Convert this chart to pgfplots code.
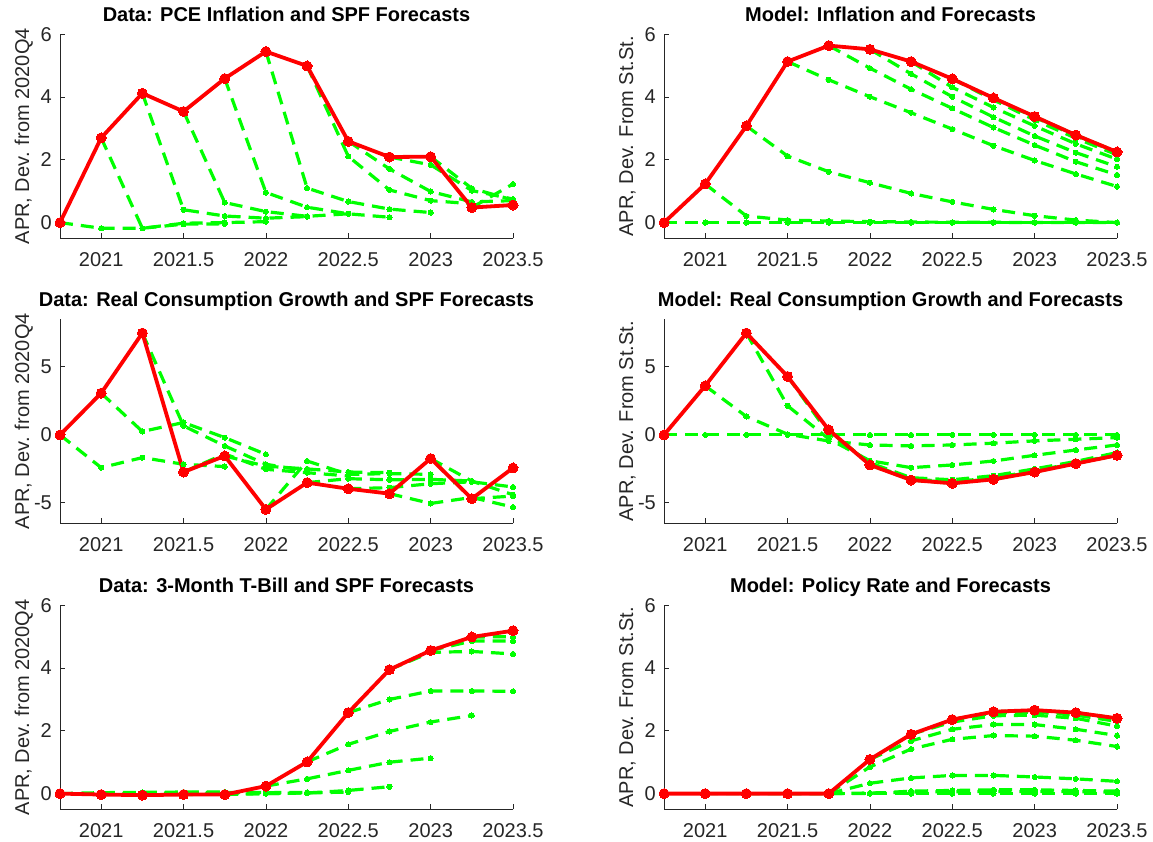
\documentclass[border=0pt]{standalone}
\usepackage{pgfplots}
\pgfplotsset{compat=1.18}
\usepackage{fontspec}
\setmainfont{Liberation Sans}
\definecolor{axgray}{gray}{0.15}
\definecolor{lgreen}{RGB}{0,255,0}
\pgfplotsset{
 panel/.style={scale only axis, width=453pt, height=204pt, xmin=2020.75, xmax=2023.5,
  axis x line*=bottom, axis y line*=left, clip=false,
  xtick={2021,2021.5,2022,2022.5,2023,2023.5},
  xticklabels={2021,2021.5,2022,2022.5,2023,2023.5},
  tick align=inside, major tick length=5.5pt,
  every tick/.style={axgray, line width=0.8pt},
  axis line style={axgray, line width=0.8pt},
  tick label style={font=\fontsize{20}{24}\selectfont, text=axgray},
  xticklabel style={anchor=base, yshift=-28.4pt, inner sep=0pt},
  yticklabel style={anchor=east, inner sep=0pt, xshift=-8pt},
  title style={font=\bfseries\fontsize{20}{24}\selectfont, at={(axis description cs:0.5,1)}, anchor=base, yshift=7pt, inner sep=0pt},
  ylabel style={font=\fontsize{20}{24}\selectfont, text=axgray, at={(axis description cs:-0.0684,0.5)}, anchor=base, inner sep=0pt},
 },
 pA/.style={panel, ymin=-0.5, ymax=6, ytick={0,2,4,6}, yticklabels={0,2,4,6}},
 pB/.style={panel, ymin=-6.5, ymax=8.5, ytick={-5,0,5}, yticklabels={-5,0,5}},
 gr/.style={lgreen, line width=3.2pt, dash pattern=on 13pt off 8pt, mark=*, mark size=2.6pt, mark options={solid, fill=lgreen, draw=lgreen, line width=0pt}},
 rd/.style={red, line width=3.8pt, solid, mark=*, mark size=5pt, mark options={solid, fill=red, draw=red, line width=0pt}},
}
\begin{document}
\begin{tikzpicture}
\path[use as bounding box] (0,0) rectangle (1153pt,842pt);
% ---------- Panel 1 ----------
\begin{axis}[pA, at={(60pt,603.7pt)}, anchor=south west,
  title={Data: PCE Inflation and SPF Forecasts}, ylabel={APR, Dev. from 2020Q4}]
\addplot[gr] coordinates {(2020.75,0)(2021,-0.18)(2021.25,-0.18)(2021.5,-0.05)(2021.75,-0.04)};
\addplot[gr] coordinates {(2021,2.70)(2021.25,-0.18)(2021.5,-0.02)(2021.75,0.0)(2022,0.03)};
\addplot[gr] coordinates {(2021.25,4.12)(2021.5,0.41)(2021.75,0.21)(2022,0.14)(2022.25,0.19)};
\addplot[gr] coordinates {(2021.5,3.54)(2021.75,0.64)(2022,0.35)(2022.25,0.20)(2022.5,0.28)};
\addplot[gr] coordinates {(2021.75,4.59)(2022,0.96)(2022.25,0.49)(2022.5,0.28)(2022.75,0.17)};
\addplot[gr] coordinates {(2022,5.45)(2022.25,1.10)(2022.5,0.67)(2022.75,0.43)(2023,0.32)};
\addplot[gr] coordinates {(2022.25,4.99)(2022.5,2.11)(2022.75,1.04)(2023,0.70)(2023.25,0.60)};
\addplot[gr] coordinates {(2022.5,2.59)(2022.75,1.71)(2023,0.99)(2023.25,0.66)(2023.5,0.70)};
\addplot[gr] coordinates {(2022.75,2.09)(2023,1.84)(2023.25,1.02)(2023.5,0.75)};
\addplot[gr] coordinates {(2023,2.10)(2023.25,1.09)(2023.5,0.72)};
\addplot[gr] coordinates {(2023.25,0.48)(2023.5,1.23)};
\addplot[rd] coordinates {(2020.75,0)(2021,2.70)(2021.25,4.12)(2021.5,3.54)(2021.75,4.59)(2022,5.45)(2022.25,4.99)(2022.5,2.59)(2022.75,2.09)(2023,2.10)(2023.25,0.48)(2023.5,0.56)};
\end{axis}
% ---------- Panel 2 ----------
\begin{axis}[pA, at={(664pt,603.7pt)}, anchor=south west,
  title={Model: Inflation and Forecasts}, ylabel={APR, Dev. From St.St.}]
\addplot[gr] coordinates {(2020.75,0)(2021,0)(2021.25,0)(2021.5,0)(2021.75,0)(2022,0)(2022.25,0)(2022.5,0)(2022.75,0)(2023,0)(2023.25,0)(2023.5,0)};
\addplot[gr] coordinates {(2021,1.23)(2021.25,0.21)(2021.5,0.08)(2021.75,0.05)(2022,0.03)(2022.25,0.02)(2022.5,0.01)(2022.75,0.01)(2023,0)(2023.25,0)(2023.5,0)};
\addplot[gr] coordinates {(2021.25,3.08)(2021.5,2.12)(2021.75,1.62)(2022,1.27)(2022.25,0.93)(2022.5,0.66)(2022.75,0.42)(2023,0.22)(2023.25,0.08)(2023.5,0.0)};
\addplot[gr] coordinates {(2021.5,5.13)(2021.75,4.55)(2022,4.01)(2022.25,3.50)(2022.5,2.98)(2022.75,2.45)(2023,1.98)(2023.25,1.55)(2023.5,1.15)};
\addplot[gr] coordinates {(2021.75,5.64)(2022,4.92)(2022.25,4.25)(2022.5,3.64)(2022.75,3.03)(2023,2.47)(2023.25,1.94)(2023.5,1.52)};
\addplot[gr] coordinates {(2022,5.52)(2022.25,4.74)(2022.5,4.01)(2022.75,3.36)(2023,2.76)(2023.25,2.23)(2023.5,1.78)};
\addplot[gr] coordinates {(2022.25,5.13)(2022.5,4.31)(2022.75,3.67)(2023,3.08)(2023.25,2.51)(2023.5,2.02)};
\addplot[gr] coordinates {(2022.5,4.58)(2022.75,3.91)(2023,3.27)(2023.25,2.69)(2023.5,2.16)};
\addplot[gr] coordinates {(2022.75,3.97)(2023,3.36)(2023.25,2.76)(2023.5,2.23)};
\addplot[gr] coordinates {(2023,3.38)(2023.25,2.79)(2023.5,2.24)};
\addplot[gr] coordinates {(2023.25,2.79)(2023.5,2.25)};
\addplot[rd] coordinates {(2020.75,0)(2021,1.23)(2021.25,3.08)(2021.5,5.13)(2021.75,5.64)(2022,5.52)(2022.25,5.13)(2022.5,4.58)(2022.75,3.97)(2023,3.38)(2023.25,2.79)(2023.5,2.25)};
\end{axis}
% ---------- Panel 3 ----------
\begin{axis}[pB, at={(60pt,318.7pt)}, anchor=south west,
  title={Data: Real Consumption Growth and SPF Forecasts}, ylabel={APR, Dev. from 2020Q4}]
\addplot[gr] coordinates {(2020.75,0)(2021,-2.41)(2021.25,-1.67)(2021.5,-2.16)(2021.75,-2.33)};
\addplot[gr] coordinates {(2021,3.07)(2021.25,0.25)(2021.5,0.91)(2021.75,-0.20)(2022,-1.43)};
\addplot[gr] coordinates {(2021.25,7.49)(2021.5,0.66)(2021.75,-0.81)(2022,-2.16)(2022.25,-2.65)};
\addplot[gr] coordinates {(2021.5,-2.73)(2021.75,-1.40)(2022,-2.53)(2022.25,-2.78)(2022.5,-3.02)};
\addplot[gr] coordinates {(2021.75,-1.55)(2022,-2.30)(2022.25,-2.50)(2022.5,-2.73)(2022.75,-2.78)};
\addplot[gr] coordinates {(2022,-5.48)(2022.25,-1.92)(2022.5,-2.90)(2022.75,-2.85)(2023,-2.90)};
\addplot[gr] coordinates {(2022.25,-3.51)(2022.5,-3.22)(2022.75,-3.30)(2023,-3.27)(2023.25,-3.39)};
\addplot[gr] coordinates {(2022.5,-3.96)(2022.75,-3.88)(2023,-3.59)(2023.25,-3.45)(2023.5,-3.83)};
\addplot[gr] coordinates {(2022.75,-4.32)(2023,-5.04)(2023.25,-4.60)(2023.5,-5.31)};
\addplot[gr] coordinates {(2023,-1.74)(2023.25,-3.40)(2023.5,-4.40)};
\addplot[gr] coordinates {(2023.25,-4.69)(2023.5,-4.50)};
\addplot[rd] coordinates {(2020.75,0)(2021,3.07)(2021.25,7.49)(2021.5,-2.73)(2021.75,-1.55)(2022,-5.48)(2022.25,-3.51)(2022.5,-3.96)(2022.75,-4.32)(2023,-1.74)(2023.25,-4.69)(2023.5,-2.43)};
\end{axis}
% ---------- Panel 4 ----------
\begin{axis}[pB, at={(664pt,318.7pt)}, anchor=south west,
  title={Model: Real Consumption Growth and Forecasts}, ylabel={APR, Dev. From St.St.}]
\addplot[gr] coordinates {(2020.75,0)(2021,0)(2021.25,0)(2021.5,0)(2021.75,0)(2022,0)(2022.25,0)(2022.5,0)(2022.75,0)(2023,0)(2023.25,0)(2023.5,0)};
\addplot[gr] coordinates {(2021,3.61)(2021.25,1.35)(2021.5,0.05)(2021.75,-0.45)(2022,-0.74)(2022.25,-0.81)(2022.5,-0.74)(2022.75,-0.61)(2023,-0.44)(2023.25,-0.32)(2023.5,-0.20)};
\addplot[gr] coordinates {(2021.25,7.49)(2021.5,2.14)(2021.75,-0.30)(2022,-1.90)(2022.25,-2.41)(2022.5,-2.21)(2022.75,-1.92)(2023,-1.50)(2023.25,-1.11)(2023.5,-0.74)};
\addplot[gr] coordinates {(2021.5,4.30)(2021.75,0.10)(2022,-2.05)(2022.25,-3.15)(2022.5,-3.30)(2022.75,-3.00)(2023,-2.50)(2023.25,-1.95)(2023.5,-1.30)};
\addplot[gr] coordinates {(2021.75,0.37)(2022,-2.15)(2022.25,-3.25)(2022.5,-3.45)(2022.75,-3.15)(2023,-2.65)(2023.25,-2.05)(2023.5,-1.45)};
\addplot[gr] coordinates {(2022,-2.21)(2022.25,-3.30)(2022.5,-3.50)(2022.75,-3.22)(2023,-2.70)(2023.25,-2.08)(2023.5,-1.48)};
\addplot[gr] coordinates {(2022.25,-3.32)(2022.5,-3.55)(2022.75,-3.25)(2023,-2.72)(2023.25,-2.10)(2023.5,-1.50)};
\addplot[rd] coordinates {(2020.75,0)(2021,3.61)(2021.25,7.49)(2021.5,4.30)(2021.75,0.37)(2022,-2.21)(2022.25,-3.32)(2022.5,-3.56)(2022.75,-3.27)(2023,-2.73)(2023.25,-2.11)(2023.5,-1.50)};
\end{axis}
% ---------- Panel 5 ----------
\begin{axis}[pA, at={(60pt,32.7pt)}, anchor=south west,
  title={Data: 3-Month T-Bill and SPF Forecasts}, ylabel={APR, Dev. from 2020Q4}]
\addplot[gr] coordinates {(2020.75,0)(2021,0.03)(2021.25,0.04)(2021.5,0.05)(2021.75,0.05)};
\addplot[gr] coordinates {(2021,-0.03)(2021.25,0.0)(2021.5,0.03)(2021.75,0.04)(2022,0.04)};
\addplot[gr] coordinates {(2021.25,-0.05)(2021.5,0.0)(2021.75,0.02)(2022,0.03)(2022.25,0.04)};
\addplot[gr] coordinates {(2021.5,-0.03)(2021.75,-0.01)(2022,0.0)(2022.25,0.02)(2022.5,0.05)};
\addplot[gr] coordinates {(2021.75,-0.03)(2022,0.0)(2022.25,0.02)(2022.5,0.10)(2022.75,0.22)};
\addplot[gr] coordinates {(2022,0.24)(2022.25,0.47)(2022.5,0.74)(2022.75,1.00)(2023,1.13)};
\addplot[gr] coordinates {(2022.25,1.01)(2022.5,1.57)(2022.75,1.98)(2023,2.28)(2023.25,2.49)};
\addplot[gr] coordinates {(2022.5,2.58)(2022.75,3.00)(2023,3.27)(2023.25,3.27)(2023.5,3.26)};
\addplot[gr] coordinates {(2022.75,3.95)(2023,4.50)(2023.25,4.53)(2023.5,4.45)};
\addplot[gr] coordinates {(2023,4.56)(2023.25,4.86)(2023.5,4.86)};
\addplot[gr] coordinates {(2023.25,4.99)(2023.5,5.00)};
\addplot[rd] coordinates {(2020.75,0)(2021,-0.03)(2021.25,-0.05)(2021.5,-0.03)(2021.75,-0.03)(2022,0.24)(2022.25,1.01)(2022.5,2.58)(2022.75,3.95)(2023,4.56)(2023.25,4.99)(2023.5,5.19)};
\end{axis}
% ---------- Panel 6 ----------
\begin{axis}[pA, at={(664pt,32.7pt)}, anchor=south west,
  title={Model: Policy Rate and Forecasts}, ylabel={APR, Dev. From St.St.}]
\addplot[gr] coordinates {(2020.75,0)(2021,0)(2021.25,0)(2021.5,0)(2021.75,0)(2022,0)(2022.25,0)(2022.5,0)(2022.75,0)(2023,0)(2023.25,0)(2023.5,0)};
\addplot[gr] coordinates {(2021,0)(2021.25,0)(2021.5,0)(2021.75,0)(2022,0.0)(2022.25,0.08)(2022.5,0.10)(2022.75,0.12)(2023,0.12)(2023.25,0.10)(2023.5,0.08)};
\addplot[gr] coordinates {(2021.25,0)(2021.5,0)(2021.75,0)(2022,0.02)(2022.25,0.05)(2022.5,0.06)(2022.75,0.07)(2023,0.07)(2023.25,0.06)(2023.5,0.05)};
\addplot[gr] coordinates {(2021.5,0)(2021.75,0)(2022,0.33)(2022.25,0.50)(2022.5,0.58)(2022.75,0.58)(2023,0.53)(2023.25,0.47)(2023.5,0.39)};
\addplot[gr] coordinates {(2021.75,0)(2022,0.85)(2022.25,1.42)(2022.5,1.73)(2022.75,1.85)(2023,1.83)(2023.25,1.70)(2023.5,1.50)};
\addplot[gr] coordinates {(2022,1.09)(2022.25,1.68)(2022.5,2.05)(2022.75,2.20)(2023,2.20)(2023.25,2.05)(2023.5,1.85)};
\addplot[gr] coordinates {(2022.25,1.89)(2022.5,2.28)(2022.75,2.48)(2023,2.50)(2023.25,2.40)(2023.5,2.15)};
\addplot[gr] coordinates {(2022.5,2.36)(2022.75,2.57)(2023,2.60)(2023.25,2.50)(2023.5,2.30)};
\addplot[gr] coordinates {(2022.75,2.61)(2023,2.65)(2023.25,2.55)(2023.5,2.35)};
\addplot[gr] coordinates {(2023,2.66)(2023.25,2.57)(2023.5,2.38)};
\addplot[gr] coordinates {(2023.25,2.58)(2023.5,2.40)};
\addplot[rd] coordinates {(2020.75,0)(2021,0)(2021.25,0)(2021.5,0)(2021.75,0)(2022,1.09)(2022.25,1.89)(2022.5,2.36)(2022.75,2.61)(2023,2.66)(2023.25,2.58)(2023.5,2.40)};
\end{axis}
\end{tikzpicture}
\end{document}
